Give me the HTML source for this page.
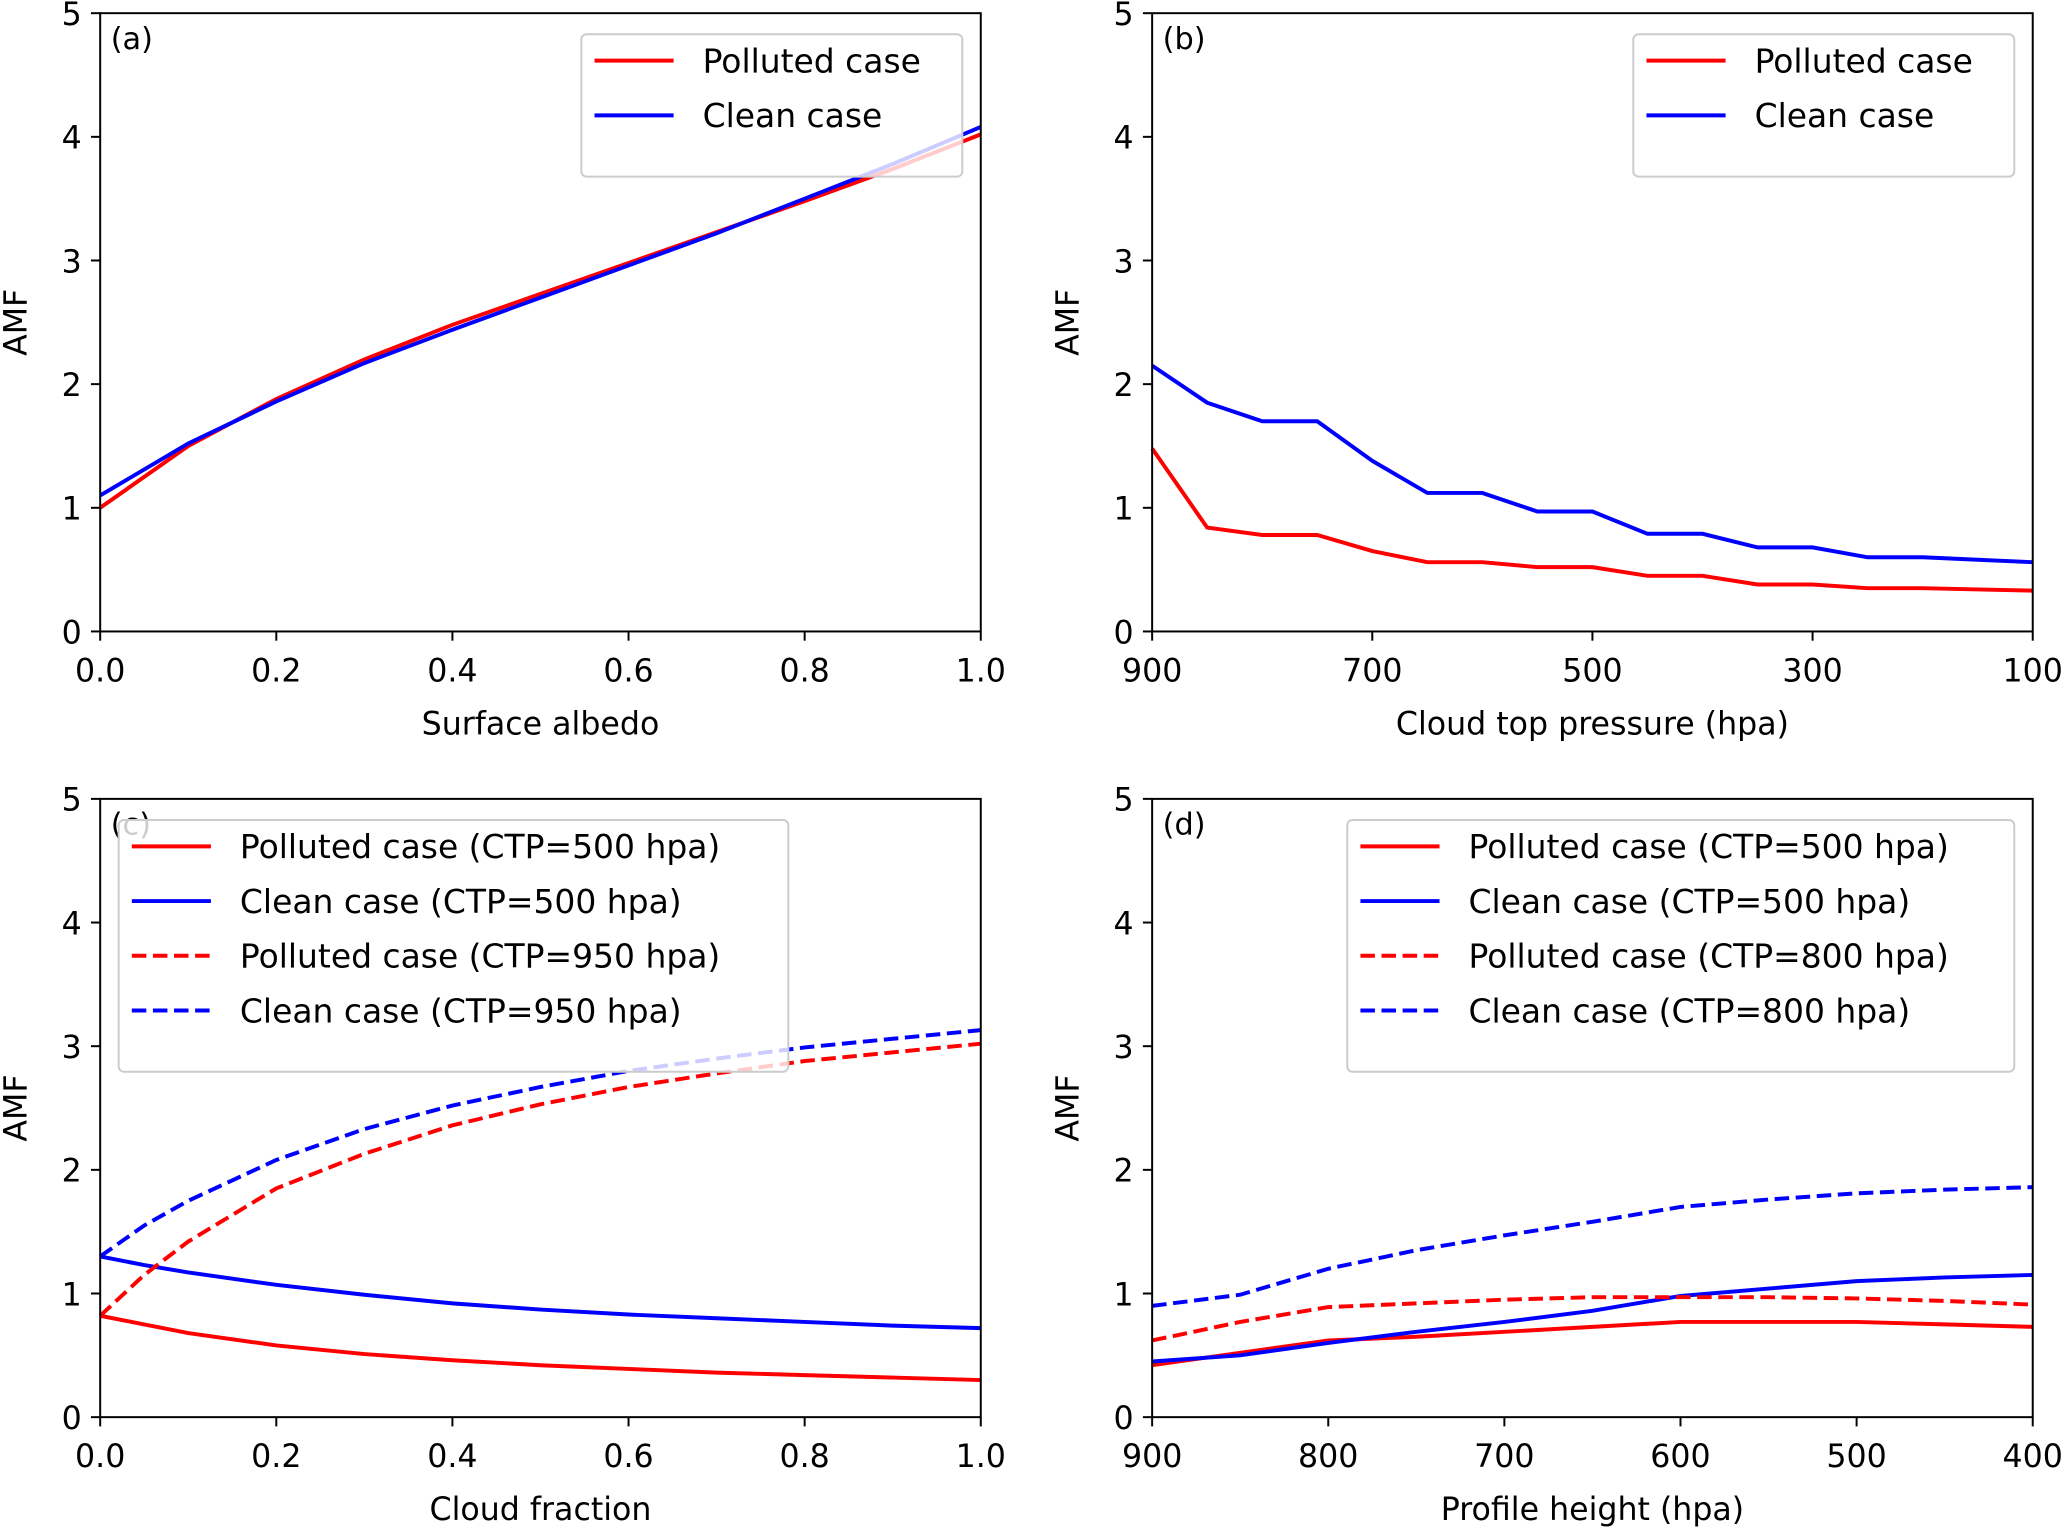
<!DOCTYPE html>
<html><head><meta charset="utf-8"><style>
html,body{margin:0;padding:0;background:#fff;}
svg{display:block;}
text{font-family:"DejaVu Sans","Liberation Sans",sans-serif;fill:#000;}
</style></head><body>
<svg id="fig" width="2067" height="1530" viewBox="0 0 1568 1160.6" preserveAspectRatio="none" xmlns="http://www.w3.org/2000/svg"></svg>
<script>
const aX=[0,0.1,0.2,0.3,0.4,0.5,0.6,0.7,0.8,0.9,1.0];
const aPolluted=[1.0,1.5,1.88,2.2,2.48,2.73,2.98,3.23,3.48,3.74,4.02];
const aClean=[1.1,1.52,1.86,2.17,2.44,2.7,2.96,3.22,3.5,3.78,4.08];
const bX=[900,850,800,750,700,650,600,550,500,450,400,350,300,250,200,150,100];
const bClean=[2.15,1.85,1.70,1.70,1.38,1.12,1.12,0.97,0.97,0.79,0.79,0.68,0.68,0.60,0.60,0.58,0.56];
const bPolluted=[1.48,0.84,0.78,0.78,0.65,0.56,0.56,0.52,0.52,0.45,0.45,0.38,0.38,0.35,0.35,0.34,0.33];
const cX=[0,0.05,0.1,0.2,0.3,0.4,0.5,0.6,0.7,0.8,0.9,1.0];
const cPolluted500=[0.82,0.75,0.68,0.58,0.51,0.46,0.42,0.39,0.36,0.34,0.32,0.30];
const cClean500=[1.3,1.23,1.17,1.07,0.99,0.92,0.87,0.83,0.80,0.77,0.74,0.72];
const cPolluted950=[0.82,1.15,1.42,1.85,2.13,2.36,2.53,2.67,2.78,2.88,2.95,3.02];
const cClean950=[1.3,1.55,1.75,2.08,2.33,2.52,2.67,2.8,2.9,2.99,3.06,3.13];
const dX=[900,850,800,750,700,650,600,550,500,450,400];
const dPolluted500=[0.42,0.52,0.62,0.65,0.69,0.73,0.77,0.77,0.77,0.75,0.73];
const dClean500=[0.45,0.50,0.60,0.69,0.77,0.86,0.98,1.04,1.10,1.13,1.15];
const dPolluted800=[0.62,0.77,0.89,0.92,0.95,0.97,0.97,0.97,0.96,0.94,0.91];
const dClean800=[0.90,0.99,1.2,1.35,1.47,1.58,1.70,1.76,1.81,1.84,1.86];
const yTicks=[0,1,2,3,4,5];
const fracTicks=["0.0","0.2","0.4","0.6","0.8","1.0"];
const ctpTicks=["900","700","500","300","100"];
const profTicks=["900","800","700","600","500","400"];

const NS="http://www.w3.org/2000/svg";
const svg=document.getElementById('fig');
function el(t,a,p){const e=document.createElementNS(NS,t);for(const k in a)e.setAttribute(k,a[k]);(p||svg).appendChild(e);return e;}
function txt(s,a,p){const e=el('text',a,p);e.textContent=s;return e;}

function panel(o){
  const g=el('g',{});
  
  
  const L=o.L,R=o.L+668,T=o.T,B=o.T+469;
  const sx=v=>L+(v-o.x0)/(o.x1-o.x0)*(R-L);
  const sy=v=>B-v/5*(B-T);
  o.series.forEach(s=>{
    const d=s.x.map((xv,i)=>(i?'L':'M')+sx(xv).toFixed(2)+','+sy(s.y[i]).toFixed(2)).join('');
    const p=el('path',{d:d,fill:'none',stroke:s.c,'stroke-width':3,'stroke-dasharray':s.dash?'11,5':'none'},g);
    
    
  });
  el('rect',{x:L,y:T,width:R-L,height:B-T,fill:'none',stroke:'#000','stroke-width':1.5},g);
  yTicks.forEach(v=>{
    el('line',{x1:L-7,x2:L,y1:sy(v),y2:sy(v),stroke:'#000','stroke-width':1.5},g);
    const t=txt(String(v),{x:L-14,y:sy(v)+9,'text-anchor':'end','font-size':24},g);
    
    
  });
  o.ticks.forEach(s=>{
    const x=sx(parseFloat(s));
    el('line',{x1:x,x2:x,y1:B,y2:B+7,stroke:'#000','stroke-width':1.5},g);
    const t=txt(s,{x:x,y:B+38,'text-anchor':'middle','font-size':24},g);
    
    
  });
  const xl=txt(o.xlabel,{x:(L+R)/2,y:B+78,'text-anchor':'middle','font-size':24},g);
  
  
  const yl=txt('AMF',{x:0,y:0,'text-anchor':'middle','font-size':24,transform:`translate(${L-56},${(T+B)/2}) rotate(-90)`},g);
  
  
  const pl=txt('('+o.id+')',{x:L+8,y:T+27,'font-size':23},g);
  
  
  const lg=el('g',{},g);
  
  
  const n=o.series.length;
  el('rect',{x:o.lx,y:T+16,width:o.lw,height:20+n*41.5+5,rx:4,fill:'#fff','fill-opacity':0.8,stroke:'#ccc','stroke-width':1.5},lg);
  o.series.forEach((s,i)=>{
    const y=T+36+i*41.5;
    el('line',{x1:o.lx+10,x2:o.lx+70,y1:y,y2:y,stroke:s.c,'stroke-width':3,'stroke-dasharray':s.dash?'11,5':'none'},lg);
    const t=txt(s.label,{x:o.lx+92,y:y+9,'font-size':25},lg);
    
    
  });
}
const R='#ff0000',Bl='#0000ff';
panel({id:'a',L:76,T:10,x0:0,x1:1,ticks:fracTicks,xlabel:'Surface albedo',lx:441,lw:289,
 series:[{name:'polluted-line',label:'Polluted case',c:R,x:aX,y:aPolluted},{name:'clean-line',label:'Clean case',c:Bl,x:aX,y:aClean}]});
panel({id:'b',L:874,T:10,x0:900,x1:100,ticks:ctpTicks,xlabel:'Cloud top pressure (hpa)',lx:1239,lw:289,
 series:[{name:'polluted-line',label:'Polluted case',c:R,x:bX,y:bPolluted},{name:'clean-line',label:'Clean case',c:Bl,x:bX,y:bClean}]});
panel({id:'c',L:76,T:606,x0:0,x1:1,ticks:fracTicks,xlabel:'Cloud fraction',lx:90,lw:508,
 series:[{name:'polluted-500-line',label:'Polluted case (CTP=500 hpa)',c:R,x:cX,y:cPolluted500},
 {name:'clean-500-line',label:'Clean case (CTP=500 hpa)',c:Bl,x:cX,y:cClean500},
 {name:'polluted-950-line',label:'Polluted case (CTP=950 hpa)',c:R,dash:1,x:cX,y:cPolluted950},
 {name:'clean-950-line',label:'Clean case (CTP=950 hpa)',c:Bl,dash:1,x:cX,y:cClean950}]});
panel({id:'d',L:874,T:606,x0:900,x1:400,ticks:profTicks,xlabel:'Profile height (hpa)',lx:1022,lw:506,
 series:[{name:'polluted-500-line',label:'Polluted case (CTP=500 hpa)',c:R,x:dX,y:dPolluted500},
 {name:'clean-500-line',label:'Clean case (CTP=500 hpa)',c:Bl,x:dX,y:dClean500},
 {name:'polluted-800-line',label:'Polluted case (CTP=800 hpa)',c:R,dash:1,x:dX,y:dPolluted800},
 {name:'clean-800-line',label:'Clean case (CTP=800 hpa)',c:Bl,dash:1,x:dX,y:dClean800}]});
</script>
</body></html>
